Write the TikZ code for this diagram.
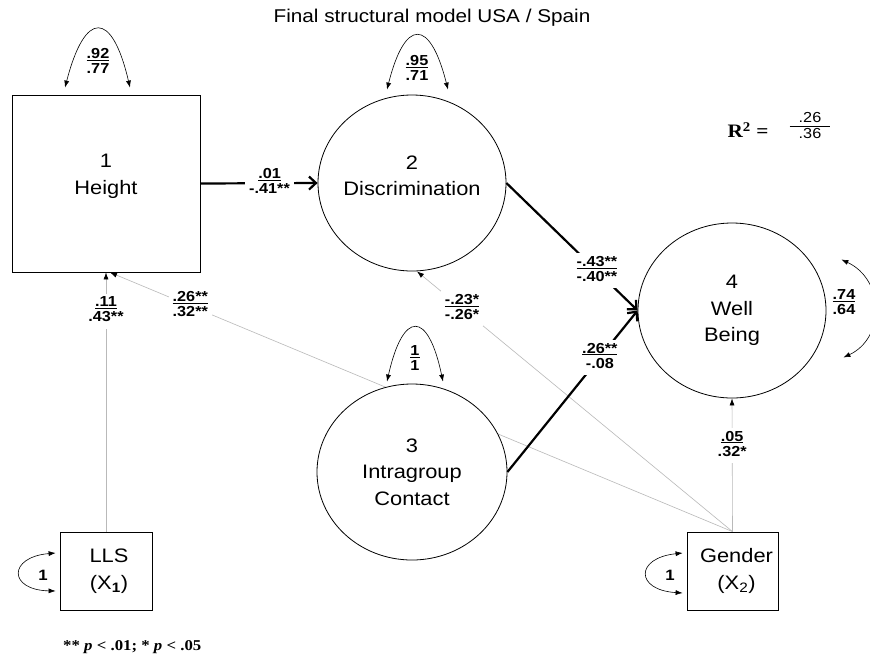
\documentclass[tikz,border=0pt]{standalone}
\usepackage{fontspec}
\setmainfont{Liberation Sans}[FakeStretch=1.12]
\newfontfamily\serifb{Liberation Serif}[FakeStretch=1.12]
\usetikzlibrary{arrows.meta,shapes.geometric}
\pgfdeclarelayer{bg}
\pgfsetlayers{bg,main}
\newcommand{\fr}[2]{\begin{tabular}{@{}c@{}}\underline{#1}\\[-1pt]#2\end{tabular}}
\begin{document}
\begin{tikzpicture}[x=1pt,y=-1pt,
  box/.style={draw, line width=0.8pt, inner sep=0pt, fill=white},
  lat/.style={draw, ellipse, line width=0.8pt, inner sep=0pt, fill=white},
  big/.style={font=\fontsize{19.5}{26.5}\selectfont, align=center, inner sep=0pt},
  lbl/.style={font=\bfseries\fontsize{14.5}{16}\selectfont, inner xsep=4pt, inner ysep=2pt, fill=white},
  lbn/.style={font=\bfseries\fontsize{14.5}{16}\selectfont, inner sep=0pt},
  strong/.style={line width=2.2pt, -{Straight Barb[length=7pt,width=13pt]}},
  weak/.style={line width=0.6pt, draw=gray!55, -{Latex[length=7pt,width=5pt,black]}},
  selfloop/.style={line width=0.6pt, {Latex[length=7pt,width=5pt]}-{Latex[length=7pt,width=5pt]}}]
\useasboundingbox (0,0) rectangle (870,657);

\node[font=\fontsize{18.5}{22}\selectfont] (T) at (432,18) {Final structural model USA / Spain};

\node[box, minimum width=188pt, minimum height=177pt] (H) at (106,183.5) {};
\node[big] (Ht) at ([yshift=7pt]H.center) {1\\Height};
\node[lat, minimum width=188pt, minimum height=176pt] (D) at (412,183) {};
\node[big] (Dt) at ([yshift=7pt]D.center) {2\\Discrimination};
\node[lat, minimum width=190pt, minimum height=176pt] (I) at (412,472) {};
\node[big] (It) at (I.center) {3\\Intragroup\\Contact};
\node[lat, minimum width=188pt, minimum height=175pt] (W) at (732,310.5) {};
\node[big] (Wt) at (W.center) {4\\Well\\Being};
\node[box, minimum width=92pt, minimum height=78pt] (L) at (106,571) {};
\node[big] (Lt) at ([xshift=3pt]L.center) {LLS\\(X\textsubscript{\bfseries 1})};
\node[box, minimum width=91pt, minimum height=78pt] (G) at (732.5,571) {};
\node[big] (Gt) at ([xshift=4pt]G.center) {Gender\\(X\textsubscript{2})};

\begin{pgfonlayer}{bg}
\fill[white] (0,0) rectangle (870,657);
\draw[weak] (L.north) -- node[lbl,pos=.85]{\fr{.11}{.43**}} (H.south);
\draw[weak] (G.north) -- node[lbl,pos=.871]{\fr{.26**}{.32**}} ([xshift=4pt]H.south);
\draw[weak] (G.north) -- node[lbl,pos=.857]{\fr{-.23*}{-.26*}} ([xshift=5pt]D.south);
\draw[weak] (G.north) -- node[lbl,pos=.647]{\fr{.05}{.32*}} (W.south);
\end{pgfonlayer}

\draw[strong] (H.east) -- node[lbl,pos=.59]{\fr{.01}{-.41**}} (D.west);
\draw[strong] (D.east) -- node[lbl,pos=.69]{\fr{-.43**}{-.40**}} (W.west);
\draw[strong] (I.east) -- node[lbl,pos=.71]{\fr{.26**}{-.08}} (W.west);

% variances
\draw[selfloop] ([shift={(-41,-7)}]H.north) .. controls (85,10) and (112,10) .. ([shift={(24,-7)}]H.north);
\node[lbn] (Hv) at (98,63) {\fr{.92}{.77}};
\draw[selfloop] ([shift={(-25,-5)}]D.north) .. controls (405,18) and (430,18) .. ([shift={(36,-5)}]D.north);
\node[lbn] (Dv) at (417,70) {\fr{.95}{.71}};
\draw[selfloop] ([shift={(-25,-2)}]I.north) .. controls (403,310) and (428,310) .. ([shift={(31,-2)}]I.north);
\node[lbn] (Iv) at (415,360) {\fr{1}{1}};
\draw[selfloop] ([shift={(15,-51)}]W.east) .. controls (885,280) and (885,338) .. ([shift={(17,47)}]W.east);
\node[lbn] (Wv) at (844,304) {\fr{.74}{.64}};
\draw[selfloop] ([shift={(-4,-18)}]L.west) .. controls (8,557) and (8,590) .. ([shift={(-4,20)}]L.west);
\node[lbn, font=\bfseries\fontsize{15}{17}\selectfont] (Lv) at (43,575) {1};
\draw[selfloop] ([shift={(-4,-18)}]G.west) .. controls (635,558) and (635,590) .. ([shift={(-4,22)}]G.west);
\node[lbn, font=\bfseries\fontsize{15}{17}\selectfont] (Gv) at (670,575) {1};

% R squared
\node[font=\serifb\bfseries\fontsize{19}{22}\selectfont] (R2) at (748,130) {R\textsuperscript{2} =};
\node[font=\fontsize{14.5}{16}\selectfont, inner sep=0pt] (R2v) at (810,127)
  {\begin{tabular}{@{\hspace{9pt}}c@{\hspace{9pt}}}.26\\[-1pt]\hline\noalign{\vskip1pt}.36\end{tabular}};

% footnote
\node[anchor=west, font=\serifb\bfseries\fontsize{15}{17}\selectfont, inner sep=0pt] (fn) at (63,647)
  {** \textit{p} < .01; * \textit{p} < .05};
\end{tikzpicture}
\end{document}
